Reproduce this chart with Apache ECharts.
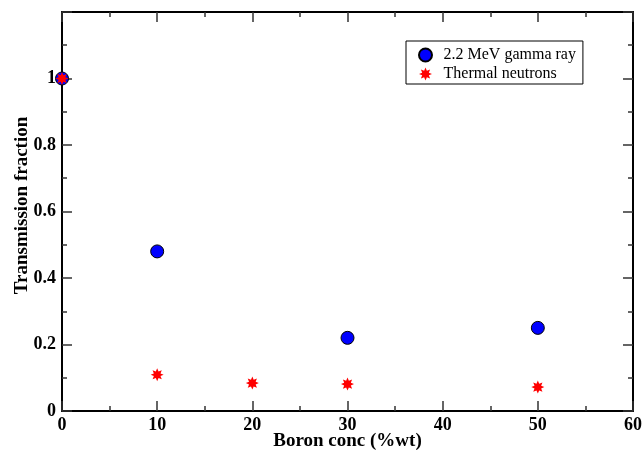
<!DOCTYPE html>
<html>
<head>
<meta charset="utf-8">
<script src="https://cdn.jsdelivr.net/npm/echarts@6/dist/echarts.min.js"></script>
<style>
  html, body { margin: 0; padding: 0; background: #fff; }
  #chart { width: 644px; height: 455px; }
</style>
</head>
<body>
<div id="chart"></div>
<script>
// Boron concentration (% wt) and measured transmission fractions
const gammaConc = [0, 10, 30, 50];
const gammaTrans = [1.0, 0.48, 0.22, 0.25];
const neutronConc = [0, 10, 20, 30, 50];
const neutronTrans = [1.0, 0.109, 0.084, 0.081, 0.072];

const xTicks = [0, 10, 20, 30, 40, 50, 60];
const yTicks = [0, 0.2, 0.4, 0.6, 0.8, 1];

const seriesNames = ['2.2 MeV gamma ray', 'Thermal neutrons'];

// eight-spoke asterisk marker
const asterisk = 'path://M20,10L15.1,12.1L17.07,17.07L12.1,15.1L10,20L7.9,15.1L2.93,17.07L4.9,12.1L0,10L4.9,7.9L2.93,2.93L7.9,4.9L10,0L12.1,4.9L17.07,2.93L15.1,7.9Z';

const serif = '"Liberation Serif", "Times New Roman", serif';

const pair = (xs, ys) => xs.map((x, i) => [x, ys[i]]);

const axisLine = { show: true, onZero: false, lineStyle: { color: '#000', width: 2 } };
const tickStyle = { inside: true, length: 10, lineStyle: { color: '#333', width: 1.5 } };
const minorStyle = { show: true, splitNumber: 2, length: 5, lineStyle: { color: '#333', width: 1.5 } };

const chart = echarts.init(document.getElementById('chart'), null, { renderer: 'canvas' });

chart.setOption({
  animation: false,
  backgroundColor: '#fff',
  grid: { left: 62, top: 12, right: 11, bottom: 44, containLabel: false, outerBoundsMode: 'none' },
  legend: {
    data: seriesNames,
    orient: 'vertical',
    left: 406,
    top: 41,
    itemWidth: 14,
    itemHeight: 13,
    itemGap: 3,
    padding: [6, 7, 2, 12],
    borderColor: '#000',
    borderWidth: 1,
    borderRadius: 0,
    textStyle: { fontFamily: serif, fontSize: 16, lineHeight: 16, color: '#000', padding: [0, 0, 0, 6] }
  },
  xAxis: [
    {
      type: 'value', min: xTicks[0], max: xTicks[xTicks.length - 1], interval: 10,
      position: 'bottom',
      name: 'Boron conc (%wt)', nameLocation: 'middle', nameGap: 21, nameMoveOverlap: false,
      nameTextStyle: { fontFamily: serif, fontSize: 19, fontWeight: 'bold', color: '#000' },
      axisLine: axisLine,
      axisTick: tickStyle,
      minorTick: minorStyle,
      splitLine: { show: false },
      axisLabel: { fontFamily: serif, fontSize: 18, fontWeight: 'bold', color: '#000', margin: 5 }
    },
    {
      type: 'value', min: xTicks[0], max: xTicks[xTicks.length - 1], interval: 10,
      position: 'top',
      axisLine: axisLine,
      axisTick: tickStyle,
      minorTick: minorStyle,
      splitLine: { show: false },
      axisLabel: { show: false }
    }
  ],
  yAxis: [
    {
      type: 'value', min: 0, max: 1.2, interval: 0.2,
      position: 'left',
      name: 'Transmission fraction', nameLocation: 'middle', nameGap: 30, nameMoveOverlap: false,
      nameTextStyle: { fontFamily: serif, fontSize: 19, fontWeight: 'bold', color: '#000', padding: [0, 0, 0, 12] },
      axisLine: axisLine,
      axisTick: tickStyle,
      minorTick: minorStyle,
      splitLine: { show: false },
      axisLabel: {
        fontFamily: serif, fontSize: 18, fontWeight: 'bold', color: '#000', margin: 6,
        formatter: v => (yTicks.some(t => Math.abs(t - v) < 1e-9) ? String(+v.toFixed(1)) : '')
      }
    },
    {
      type: 'value', min: 0, max: 1.2, interval: 0.2,
      position: 'right',
      axisLine: axisLine,
      axisTick: tickStyle,
      minorTick: minorStyle,
      splitLine: { show: false },
      axisLabel: { show: false }
    }
  ],
  series: [
    {
      name: seriesNames[0],
      type: 'scatter',
      data: pair(gammaConc, gammaTrans),
      symbol: 'circle',
      symbolSize: 13,
      clip: false,
      itemStyle: { color: '#0000ff', borderColor: '#000', borderWidth: 1, opacity: 1 }
    },
    {
      name: seriesNames[1],
      type: 'scatter',
      data: pair(neutronConc, neutronTrans),
      symbol: asterisk,
      symbolSize: 13,
      clip: false,
      z: 3,
      itemStyle: { color: '#ff0000', opacity: 1 }
    }
  ]
});
</script>
</body>
</html>
